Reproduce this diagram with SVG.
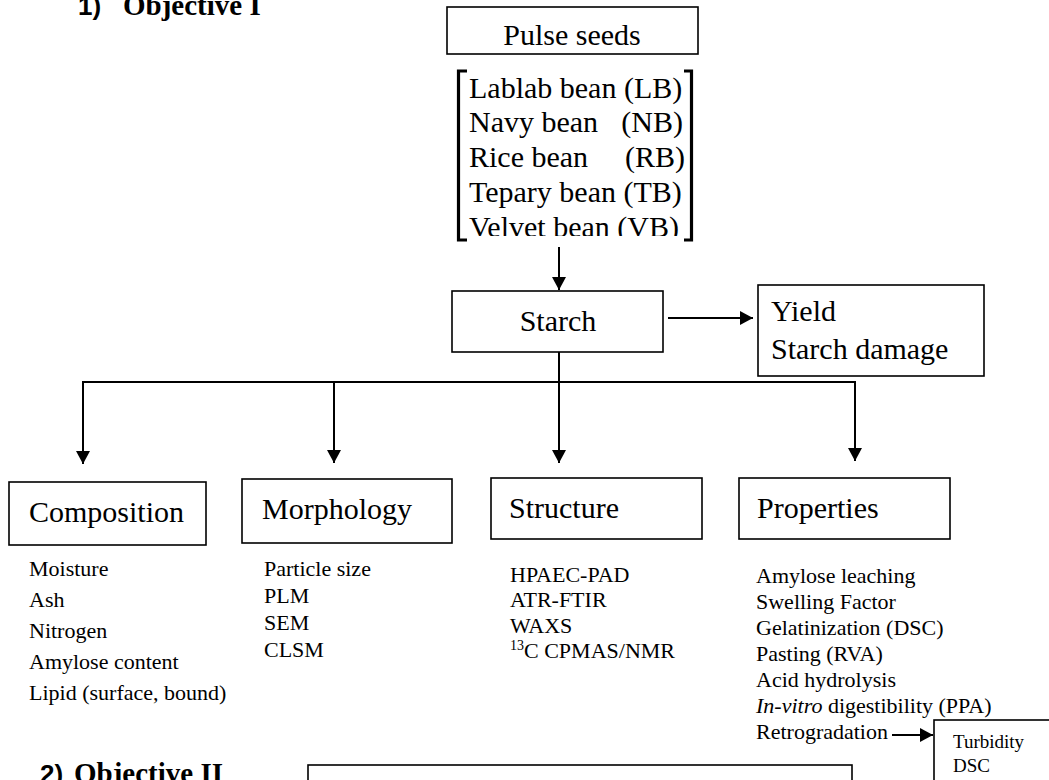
<svg xmlns="http://www.w3.org/2000/svg" width="1049" height="780" viewBox="0 0 1049 780">
<defs>
<style>
.t{font-family:"Liberation Serif","Times New Roman",serif;fill:#000}
.b{font-size:30px}
.s{font-size:22px}
.h{font-weight:bold}
.sans{font-family:"Liberation Sans",Arial,sans-serif;font-weight:bold}
.box{fill:#fff;stroke:#000;stroke-width:1.6}
.ln{fill:none;stroke:#000;stroke-width:2}
.br{fill:none;stroke:#000;stroke-width:3.2}
</style>
<marker id="ah" viewBox="0 0 13 14" refX="13" refY="7" markerWidth="13" markerHeight="14" markerUnits="userSpaceOnUse" orient="auto">
<path d="M0,0 L13,7 L0,14 z" fill="#000"/>
</marker>
<clipPath id="clipList"><rect x="440" y="60" width="270" height="176"/></clipPath>
</defs>
<rect width="1049" height="780" fill="#fff"/>

<g id="title1">
<text class="sans" x="78" y="15" font-size="26">1)</text>
<text class="t h" x="123" y="15" font-size="29">Objective I</text>
</g>

<g id="pulse-seeds">
<rect class="box" x="447" y="7" width="251" height="47" stroke-width="2"/>
<text class="t b" x="572" y="45" text-anchor="middle">Pulse seeds</text>
</g>

<g id="bean-list">
<path class="br" d="M467,71 L458.5,71 L458.5,240 L467,240"/>
<path class="br" d="M684,71 L691.5,71 L691.5,240 L684,240"/>
<g clip-path="url(#clipList)">
<text class="t b" x="469" y="98">Lablab bean (LB)</text>
<text class="t b" y="132"><tspan x="469">Navy bean</tspan><tspan x="683" text-anchor="end">(NB)</tspan></text>
<text class="t b" y="167"><tspan x="469">Rice bean</tspan><tspan x="685" text-anchor="end">(RB)</tspan></text>
<text class="t b" x="469" y="202">Tepary bean (TB)</text>
<text class="t b" x="469" y="237">Velvet bean (VB)</text>
</g>
</g>

<g id="starch">
<rect class="box" x="452" y="291" width="211" height="61"/>
<text class="t b" x="558" y="331" text-anchor="middle">Starch</text>
</g>

<g id="yield">
<rect class="box" x="758" y="285" width="226" height="91"/>
<text class="t b" x="771" y="321">Yield</text>
<text class="t b" x="771" y="359">Starch damage</text>
</g>

<g id="composition">
<rect class="box" x="9" y="482" width="197" height="63"/>
<text class="t b" x="29" y="522">Composition</text>
<text class="t s" x="29" y="576">Moisture</text>
<text class="t s" x="29" y="607">Ash</text>
<text class="t s" x="29" y="638">Nitrogen</text>
<text class="t s" x="29" y="669">Amylose content</text>
<text class="t s" x="29" y="700">Lipid (surface, bound)</text>
</g>

<g id="morphology">
<rect class="box" x="242" y="479" width="210" height="64"/>
<text class="t b" x="262" y="519">Morphology</text>
<text class="t s" x="264" y="576">Particle size</text>
<text class="t s" x="264" y="603">PLM</text>
<text class="t s" x="264" y="630">SEM</text>
<text class="t s" x="264" y="657">CLSM</text>
</g>

<g id="structure">
<rect class="box" x="491" y="478" width="211" height="61"/>
<text class="t b" x="509" y="518">Structure</text>
<text class="t s" x="510" y="582">HPAEC-PAD</text>
<text class="t s" x="510" y="607">ATR-FTIR</text>
<text class="t s" x="510" y="633">WAXS</text>
<text class="t s" x="510" y="658"><tspan font-size="14" dy="-8">13</tspan><tspan dy="8">C CPMAS/NMR</tspan></text>
</g>

<g id="properties">
<rect class="box" x="739" y="478" width="211" height="61"/>
<text class="t b" x="757" y="518">Properties</text>
<text class="t s" x="756" y="583">Amylose leaching</text>
<text class="t s" x="756" y="609">Swelling Factor</text>
<text class="t s" x="756" y="635">Gelatinization (DSC)</text>
<text class="t s" x="756" y="661">Pasting (RVA)</text>
<text class="t s" x="756" y="687">Acid hydrolysis</text>
<text class="t s" x="756" y="713"><tspan font-style="italic">In-vitro</tspan> digestibility (PPA)</text>
<text class="t s" x="756" y="739">Retrogradation</text>
</g>

<g id="retro-box">
<rect class="box" x="934" y="720" width="130" height="80"/>
<text class="t" font-size="19" x="953" y="748">Turbidity</text>
<text class="t" font-size="19" x="953" y="772">DSC</text>
</g>

<g id="title2">
<text class="sans" x="40" y="783" font-size="26">2)</text>
<text class="t h" x="74" y="783" font-size="29">Objective II</text>
</g>

<g id="objective2-box">
<rect class="box" x="308" y="765" width="544" height="40" stroke-width="2"/>
</g>

<g id="connectors">
<line class="ln" x1="559" y1="247" x2="559" y2="290" marker-end="url(#ah)"/>
<line class="ln" x1="668" y1="318" x2="753" y2="318" marker-end="url(#ah)"/>
<line class="ln" x1="559" y1="352" x2="559" y2="382"/>
<line class="ln" x1="82" y1="382" x2="856" y2="382"/>
<line class="ln" x1="83" y1="381" x2="83" y2="464" marker-end="url(#ah)"/>
<line class="ln" x1="334" y1="381" x2="334" y2="463" marker-end="url(#ah)"/>
<line class="ln" x1="559" y1="382" x2="559" y2="463" marker-end="url(#ah)"/>
<line class="ln" x1="855" y1="381" x2="855" y2="461" marker-end="url(#ah)"/>
<line class="ln" x1="892" y1="735" x2="933" y2="735" marker-end="url(#ah)"/>
</g>
</svg>
